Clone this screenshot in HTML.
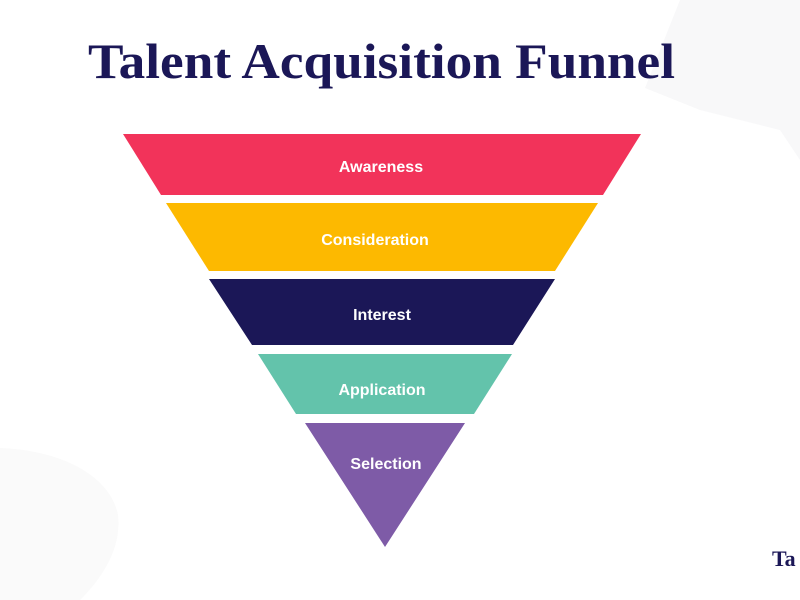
<!DOCTYPE html>
<html><head><style>
html,body{margin:0;padding:0;background:#fff;}
svg{display:block;}
</style></head><body>
<svg width="800" height="600" viewBox="0 0 800 600" xmlns="http://www.w3.org/2000/svg">
<rect width="800" height="600" fill="#fff"/>
<path d="M680 0 L800 0 L800 160 L780 130 L700 110 L645 88 Z" fill="#f8f8f9"/>
<path d="M0 448 C60 450 110 475 118 515 C122 550 100 580 80 600 L0 600 Z" fill="#fafafa"/>
<text x="88" y="78" textLength="587" lengthAdjust="spacingAndGlyphs" font-family="Liberation Serif, serif" font-weight="bold" font-size="50" fill="#1B1757">Talent Acquisition Funnel</text>
<g>
<polygon points="123,134 641,134 603,195 161,195" fill="#F2335A"/>
<polygon points="166,203 598,203 555,271 209,271" fill="#FDB900"/>
<polygon points="209,279 555,279 513,345 252,345" fill="#1B1757"/>
<polygon points="258,354 512,354 474,414 296,414" fill="#63C3AB"/>
<polygon points="305,423 465,423 385,547" fill="#7E5BA7"/>
</g>
<g font-family="Liberation Sans, sans-serif" font-size="16" font-weight="bold" fill="#fff" text-anchor="middle">
<text x="381" y="172">Awareness</text>
<text x="375" y="245">Consideration</text>
<text x="382" y="320">Interest</text>
<text x="382" y="395">Application</text>
<text x="386" y="469">Selection</text>
</g>
<text x="772" y="566" font-family="Liberation Serif, serif" font-weight="bold" font-size="22" fill="#1B1757">Ta</text>
</svg>
</body></html>
